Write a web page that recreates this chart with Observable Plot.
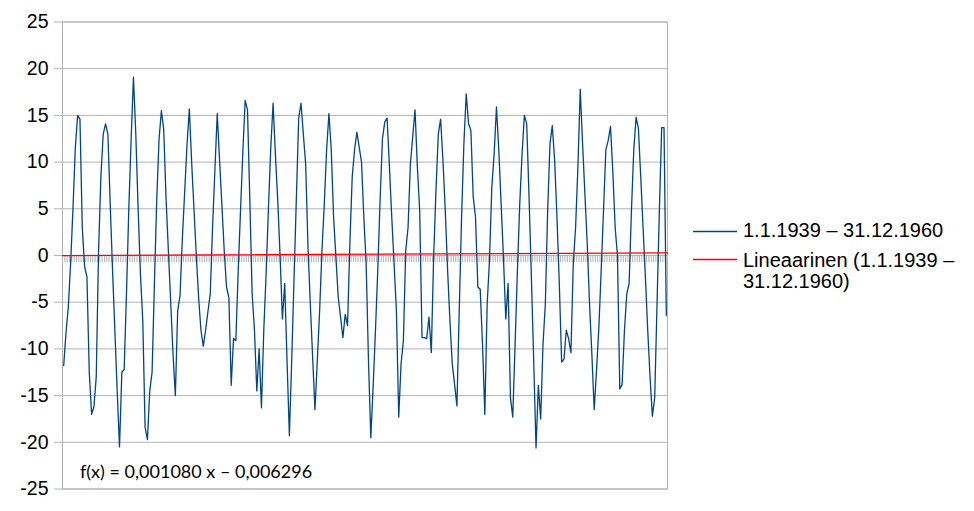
<!DOCTYPE html>
<html><head><meta charset="utf-8">
<script src="https://cdn.jsdelivr.net/npm/d3@7"></script>
<script src="https://cdn.jsdelivr.net/npm/@observablehq/plot@0.6"></script>
<style>
body{margin:0;background:#fff;}
#wrap{position:relative;width:974px;height:511px;font-family:"Liberation Sans",Arial,sans-serif;color:#000;}
#wrap svg{position:absolute;left:0;top:0;}
.leg{position:absolute;left:743px;font-size:20px;line-height:21px;white-space:nowrap;}
#formula{position:absolute;left:80px;top:461.5px;font-family:Lato,sans-serif;font-size:18px;line-height:18px;white-space:nowrap;}
</style></head>
<body><div id="wrap"></div>
<script>
// Monthly values, Jan 1939 onwards
const y1939 = [-11.8, -8.3, -5.5, -0.8, 5, 11.5, 15, 14.6, 3, -1.2, -2.3, -12.5];
const y1940 = [-17, -16.2, -13, 0.5, 8.5, 13, 14.1, 13, 5.5, -1.5, -8, -14.5];
const y1941 = [-20.5, -12.5, -12.2, -4, 5, 12.5, 19.1, 13, 5, -2, -7, -18.4];
const y1942 = [-19.7, -14.5, -12.5, -3, 6, 12.5, 15.5, 13.5, 6.1, 0.5, -5, -10.6];
const y1943 = [-15, -5.9, -4.3, 1.8, 6.8, 11.8, 15.7, 10, 5, 0, -4.5, -8];
const y1944 = [-9.7, -8, -6, -4.1, 3.1, 9.2, 15.2, 10.2, 5.4, 0.5, -3.4, -4.5];
const y1945 = [-13.9, -8.9, -9.1, -1.7, 4.8, 11.1, 16.6, 15.6, 6, -4.1, -8, -14.5];
const y1946 = [-10, -16.3, -8, -2, 5, 11.5, 16.3, 10.8, 5.9, 0, -6.8, -3];
const y1947 = [-11.3, -19.3, -11.2, -2.5, 6.1, 14.7, 16.3, 13, 9.8, 0.9, -5.2, -10.9];
const y1948 = [-16.5, -11.3, -5.9, 0.5, 5.5, 11.3, 15.2, 11.3, 4.1, -0.2, -4.5, -6.6];
const y1949 = [-8.8, -6.3, -7.5, 1.3, 8.4, 11.3, 13.2, 11.6, 10, 4.1, -0.9, -11.3];
const y1950 = [-19.5, -14, -8, -1.5, 6, 12.5, 14.3, 14.7, 9.5, 4.1, -0.9, -5.9];
const y1951 = [-17.3, -11.6, -9.1, 0.5, 3, 9.8, 12.7, 15.6, 9.5, 4.8, -8.8, -8.8];
const y1952 = [-8.9, -6.6, -10.4, -0.2, 7, 13, 14.6, 10.2, 4.8, -1.6, -7, -11.6];
const y1953 = [-13.8, -16.1, -5.9, 4.1, 12, 17.3, 14.1, 13.4, 6.3, 4.1, -3.4, -3.6];
const y1954 = [-9.5, -17, -5.2, -0.5, 7.3, 10.9, 15.9, 11.3, 5.5, -0.2, -6.8, -3];
const y1955 = [-15.2, -17.3, -9.5, -1.6, 5.5, 10.9, 15, 14.1, 6.3, -2.3, -11.3, -20.6];
const y1956 = [-13.9, -17.5, -9.5, -5.2, 4.8, 12, 13.9, 10.2, 4.1, -3, -11.4, -11.1];
const y1957 = [-8, -8.9, -10.4, -0.9, 3, 9.5, 17.8, 12, 6.6, 1.3, -5.2, -10.6];
const y1958 = [-16.5, -12.3, -7.7, -1.6, 4.8, 11.3, 12.3, 13.8, 9, 3, 0, -14.3];
const y1959 = [-13.8, -8, -4.1, -3, 4.8, 11.3, 14.8, 13.6, 8.4, 3, -2.3, -8];
const y1960 = [-13, -17.2, -15.2, -5.2, 4.8, 13.7, 13.7, -6.4];

const yTicks = [-25, -20, -15, -10, -5, 0, 5, 10, 15, 20, 25];
const seriesName = "1.1.1939 – 31.12.1960";
const trendName = "Lineaarinen (1.1.1939 –\n31.12.1960)";
const trendSlope = 0.001080;
const trendIntercept = -0.006296;
const formulaText = "f(x) = 0,001080 x – 0,006296";
const seriesColor = "#004586";
const trendColor = "#ff0000";

const temps = [].concat(y1939,y1940,y1941,y1942,y1943,y1944,y1945,y1946,y1947,y1948,y1949,
  y1950,y1951,y1952,y1953,y1954,y1955,y1956,y1957,y1958,y1959,y1960);
const data = temps.map((v, i) => ({i, v}));
const n = temps.length;
const bounds = d3.range(-0.5, n, 1);
const trend = [-0.5, n - 0.5].map(x => ({x, y: trendSlope * (x + 1) + trendIntercept}));

const chart = Plot.plot({
  width: 974, height: 511,
  marginLeft: 62, marginRight: 307, marginTop: 21.5, marginBottom: 22.5,
  style: {fontFamily: "Liberation Sans, Arial, sans-serif", fontSize: "19.5px", color: "#000", background: "transparent"},
  x: {domain: [-0.5, n - 0.5], axis: null},
  y: {domain: [-25, 25]},
  marks: [
    Plot.ruleY(yTicks, {stroke: "#b3b3b3", strokeWidth: 1}),
    Plot.axisY(yTicks, {tickSize: 8, tickPadding: 6, stroke: "#b3b3b3", fill: "#000", label: null, tickFormat: d => String(d)}),
    Plot.ruleX(bounds, {x: d => d, y: -0.75, stroke: "#b3b3b3", strokeWidth: 1}),
    Plot.frame({stroke: "#b3b3b3"}),
    Plot.line(data, {x: "i", y: "v", stroke: seriesColor, strokeWidth: 1.3}),
    Plot.line(trend, {x: "x", y: "y", stroke: trendColor, strokeWidth: 1.2})
  ]
});
const wrap = document.getElementById("wrap");
wrap.appendChild(chart);

// legend swatches (small overlay svg)
const legendItems = [{color: seriesColor, top: 231}, {color: trendColor, top: 259}];
const lsvg = d3.select(wrap).append("svg")
  .attr("width", 974).attr("height", 511)
  .style("position", "absolute").style("left", 0).style("top", 0).style("pointer-events", "none");
lsvg.selectAll("rect").data(legendItems).join("rect")
  .attr("x", 693).attr("width", 44)
  .attr("y", d => d.top - 0.25).attr("height", 1.5)
  .attr("fill", d => d.color);

function add(cls, css, text) {
  const el = document.createElement("div");
  if (cls) el.className = cls;
  Object.assign(el.style, css);
  if (text != null) el.textContent = text;
  wrap.appendChild(el);
  return el;
}
add("leg", {top: "219.9px"}, seriesName);
add("leg", {top: "249.9px", whiteSpace: "pre"}, trendName);
const f = add(null, {}, formulaText);
f.id = "formula";
</script>
</body></html>
